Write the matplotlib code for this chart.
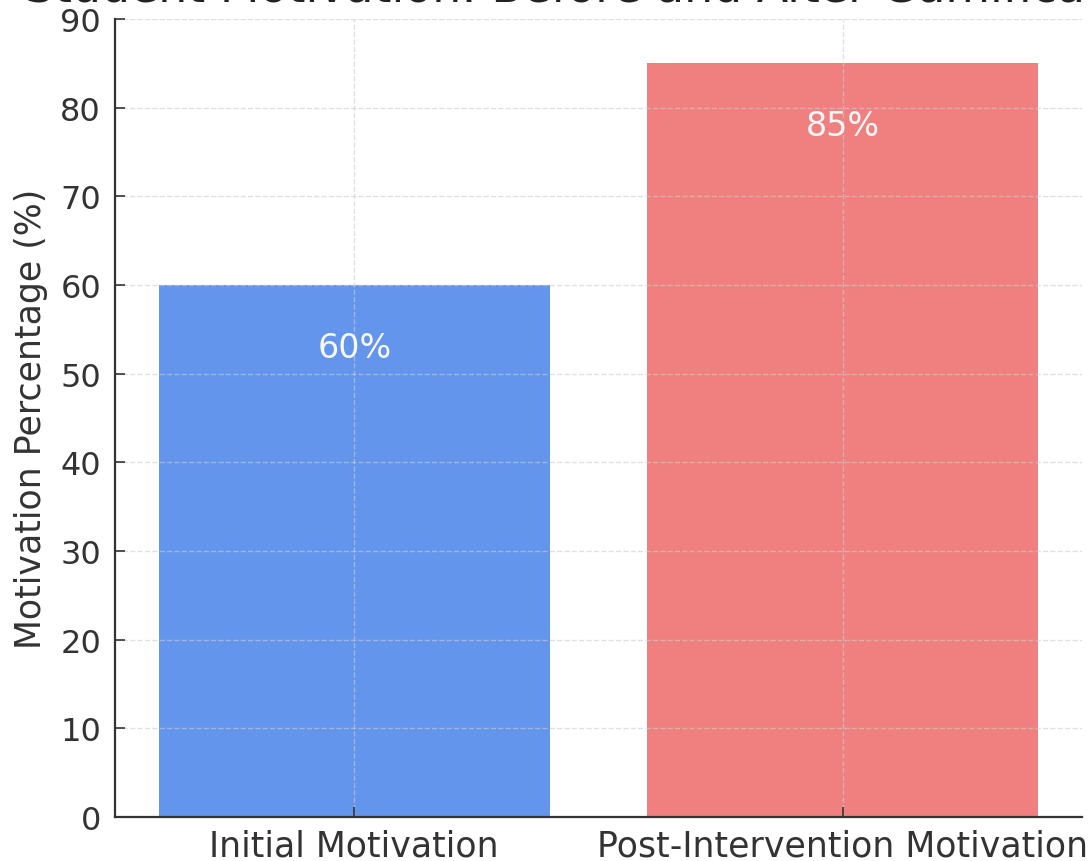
import matplotlib
matplotlib.use("Agg")
from matplotlib import pyplot as plt

categories = ["Initial Motivation", "Post-Intervention Motivation"]
motivation = [60, 85]
bar_colors = ["cornflowerblue", "lightcoral"]
title = "Student Motivation: Before and After Gamification"

W, H = 1091, 862
fig = plt.figure(figsize=(W / 100, H / 100), dpi=100)
ax = fig.add_axes([115 / W, (H - 818) / H, (1082 - 115) / W, (818 - 20) / H])

bars = ax.bar(categories, motivation, color=bar_colors, width=0.8)
ax.set_ylim(0, 90)
ax.set_xlim(-0.49, 1.49)

for rect, val in zip(bars, motivation):
    ax.text(rect.get_x() + rect.get_width() / 2, val - 7, f"{val}%",
            ha="center", va="center", color="#f8f8f8", fontsize=24)

ax.set_title(title, fontsize=33, color="#222222", pad=13)
ax.set_ylabel("Motivation Percentage (%)", fontsize=25, color="#333333",
              labelpad=9)
ax.tick_params(axis="both", direction="in", length=7, width=1.2,
               labelcolor="#333333", colors="#333333")
ax.tick_params(axis="y", labelsize=23, pad=10)
ax.tick_params(axis="x", labelsize=25, pad=8)
ax.grid(True, linestyle="--", color="#cccccc", alpha=0.6, linewidth=1)

for side in ["top", "right"]:
    ax.spines[side].set_visible(False)
for side in ["left", "bottom"]:
    ax.spines[side].set_color("#333333")
    ax.spines[side].set_linewidth(1.6)

fig.savefig("out.png", dpi=100)
